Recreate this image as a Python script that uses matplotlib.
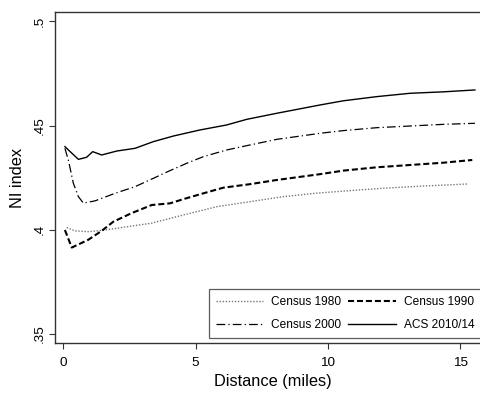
import matplotlib
matplotlib.use('Agg')
import matplotlib.pyplot as plt
import numpy as np

plt.rcParams['font.family'] = ['Liberation Sans', 'DejaVu Sans']

# Data
x_1980 = [0.13, 0.44, 0.94, 1.58, 2.21, 3.34, 4.53, 5.80, 7.05, 8.31, 9.57, 11.59, 12.03, 13.60, 15.30]
y_1980 = [0.4011, 0.3995, 0.3991, 0.3999, 0.4011, 0.4032, 0.4071, 0.4111, 0.4135, 0.4159, 0.4176,
          0.4195, 0.4199, 0.4210, 0.4220]

x_1990 = [0.06, 0.32, 0.94, 1.45, 1.89, 2.58, 3.34, 4.03, 4.53, 5.29, 6.04, 7.05, 8.06, 9.70,
          10.58, 11.84, 13.10, 14.36, 15.45]
y_1990 = [0.3999, 0.3915, 0.3952, 0.3995, 0.4039, 0.4080, 0.4119, 0.4127, 0.4147, 0.4175, 0.4202,
          0.4219, 0.4239, 0.4267, 0.4284, 0.4300, 0.4311, 0.4322, 0.4335]

x_2000 = [0.06, 0.19, 0.38, 0.57, 0.76, 1.20, 1.95, 2.71, 3.40, 4.03, 4.66, 5.29, 6.17, 7.05,
          8.06, 9.70, 10.58, 11.84, 13.10, 14.36, 15.55]
y_2000 = [0.4391, 0.4335, 0.4223, 0.4159, 0.4128, 0.4139, 0.4175, 0.4207, 0.4247, 0.4284, 0.4319,
          0.4351, 0.4383, 0.4407, 0.4434, 0.4463, 0.4476, 0.4490, 0.4498, 0.4506, 0.4511]

x_acs = [0.06, 0.57, 0.88, 1.11, 1.45, 2.02, 2.71, 3.40, 4.16, 5.16, 6.17, 6.93, 8.06, 9.70,
         10.58, 11.84, 13.10, 14.36, 15.55]
y_acs = [0.4399, 0.4338, 0.4348, 0.4375, 0.4359, 0.4378, 0.4391, 0.4423, 0.4450, 0.4479, 0.4503,
         0.4530, 0.4559, 0.4599, 0.4619, 0.4639, 0.4655, 0.4662, 0.4671]

yticks = [0.35, 0.4, 0.45, 0.5]
ytick_labels = ['.35', '.4', '.45', '.5']
xticks = [0, 5, 10, 15]

fig = plt.figure(figsize=(4.81, 3.93), dpi=100)
# plot region runs a little past the right edge of the picture (cropped like the original)
ax = fig.add_axes([55 / 481, 1 - 343 / 393, 435 / 481, 331 / 393])

l80, = ax.plot(x_1980, y_1980, color='#777777', lw=1.0, dashes=(1, 1.2), label='Census 1980')
l90, = ax.plot(x_1990, y_1990, color='black', lw=1.5, dashes=(2.9, 1.4), label='Census 1990')
l00, = ax.plot(x_2000, y_2000, color='black', lw=0.9, dashes=(7, 2.5, 1, 2.5), label='Census 2000')
lacs, = ax.plot(x_acs, y_acs, color='black', lw=1.0, label='ACS 2010/14')

ax.set_xlim(-0.314, 16.12)
ax.set_ylim(0.3457, 0.5045)
ax.set_xticks(xticks)
ax.set_yticks(yticks)
ax.set_yticklabels(ytick_labels)

ax.spines['right'].set_visible(False)
for s in ['left', 'top', 'bottom']:
    ax.spines[s].set_linewidth(1.0)
    ax.spines[s].set_color('#333333')

ax.tick_params(axis='both', length=4, width=0.8, color='#333333', labelsize=9.7)
ax.tick_params(axis='x', pad=6)
ax.tick_params(axis='y', pad=3, labelrotation=90)
for lab in ax.get_yticklabels():
    lab.set_va('center')

ax.set_xlabel('Distance (miles)', fontsize=11.8, labelpad=4)
ax.set_ylabel('NI index', fontsize=11.8, labelpad=6)

# rows: 1980 | 1990, then 2000 | ACS (matplotlib fills columns first)
handles = [l80, l00, l90, lacs]
leg = ax.legend(handles, [h.get_label() for h in handles], ncol=2, loc='lower left',
                bbox_to_anchor=(209 / 481, 1 - 337.7 / 393), bbox_transform=fig.transFigure,
                fontsize=8.6, frameon=True, fancybox=False,
                handlelength=4.0, handletextpad=0.65, columnspacing=0.6, labelspacing=0.95,
                borderpad=0.55, borderaxespad=0)
leg.get_frame().set_edgecolor('#333333')
leg.get_frame().set_linewidth(0.9)

fig.savefig('out.png', dpi=100, facecolor='white')
